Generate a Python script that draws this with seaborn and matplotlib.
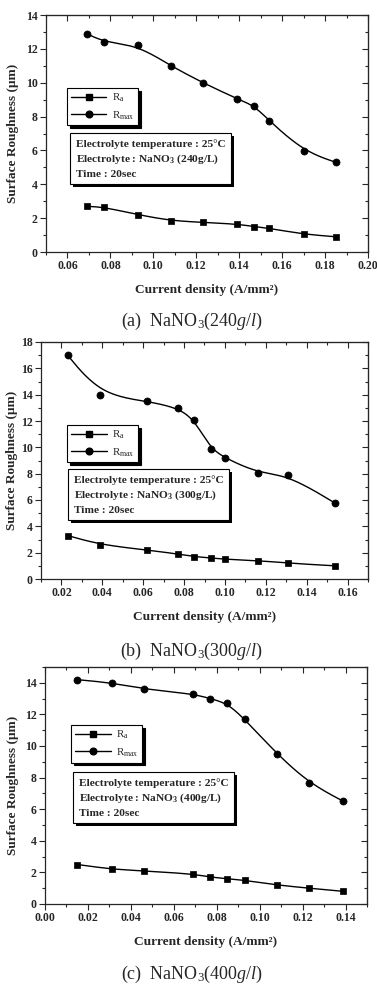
import numpy as np
import seaborn as sns
import matplotlib as mpl
mpl.use('Agg')
import matplotlib.pyplot as plt
from matplotlib.lines import Line2D
from matplotlib import patheffects as pe
from matplotlib.ticker import MultipleLocator, FormatStrFormatter

# (a) NaNO3 240 g/l
x_240 = [0.069, 0.077, 0.093, 0.108, 0.123, 0.139, 0.147, 0.154, 0.170, 0.185]
ra_240 = [2.7, 2.65, 2.2, 1.85, 1.75, 1.65, 1.5, 1.4, 1.05, 0.9]
rmax_240 = [12.9, 12.4, 12.2, 11.0, 10.0, 9.05, 8.65, 7.75, 5.95, 5.3]

# (b) NaNO3 300 g/l
x_300 = [0.023, 0.039, 0.062, 0.077, 0.085, 0.093, 0.100, 0.116, 0.131, 0.154]
ra_300 = [3.3, 2.6, 2.2, 1.9, 1.7, 1.6, 1.5, 1.4, 1.2, 1.0]
rmax_300 = [17.0, 14.0, 13.5, 13.0, 12.1, 9.9, 9.2, 8.05, 7.9, 5.75]

# (c) NaNO3 400 g/l
x_400 = [0.015, 0.031, 0.046, 0.069, 0.077, 0.085, 0.093, 0.108, 0.123, 0.139]
ra_400 = [2.5, 2.2, 2.1, 1.9, 1.7, 1.6, 1.5, 1.2, 1.0, 0.8]
rmax_400 = [14.2, 14.0, 13.6, 13.3, 13.0, 12.7, 11.7, 9.5, 7.65, 6.5]

concs = ['240', '300', '400']
letters = ['a', 'b', 'c']

sns.set_style('ticks')
plt.rcParams['font.family'] = ['Liberation Serif', 'DejaVu Serif']
plt.rcParams['mathtext.fontset'] = 'custom'
plt.rcParams['mathtext.rm'] = 'Liberation Serif'
plt.rcParams['mathtext.it'] = 'Liberation Serif:italic'
plt.rcParams['mathtext.bf'] = 'Liberation Serif:bold'


def bspline(xs, ys, n=25):
    # curva B-spline tipo Origin usando los puntos como control
    P = np.column_stack([xs, ys])
    P = np.vstack([P[:1], P[:1], P, P[-1:], P[-1:]])
    t = np.linspace(0, 1, n, endpoint=False)[:, None]
    b0 = (1 - t) ** 3 / 6
    b1 = (3 * t ** 3 - 6 * t ** 2 + 4) / 6
    b2 = (-3 * t ** 3 + 3 * t ** 2 + 3 * t + 1) / 6
    b3 = t ** 3 / 6
    segs = [b0 * P[i] + b1 * P[i + 1] + b2 * P[i + 2] + b3 * P[i + 3] for i in range(len(P) - 3)]
    out = np.vstack(segs + [P[-1:]])
    return out[:, 0], out[:, 1]


W, H = 377, 986
fig = plt.figure(figsize=(W / 100, H / 100), dpi=100)

# pixel layout: left, right, top, bottom of each axes
boxes = [(46, 368, 15, 252), (41, 368, 342, 579), (45, 367, 667, 904)]
xlims = [(0.05, 0.20), (0.01, 0.17), (0.0, 0.15)]
ylims = [(0, 14), (0, 18), (0, 15)]
xfirst = [0.06, 0.02, 0.00]
leg_pos = [(0.065, 0.692), (0.0795, 0.650), (0.081, 0.755)]
txt_pos = [(0.093, 0.477), (0.101, 0.439), (0.106, 0.532)]
xlab_y = [290, 617, 942]
cap_y = [321, 651, 974]
ylab_x = [13, 12, 13]

data = [(x_240, ra_240, rmax_240), (x_300, ra_300, rmax_300), (x_400, ra_400, rmax_400)]

for k in range(3):
    l, r, t, b = boxes[k]
    ax = fig.add_axes([l / W, 1 - b / H, (r - l) / W, (b - t) / H])
    xs, ra, rmax = data[k]

    for ys, mk, s in [(ra, 's', 24), (rmax, 'o', 26)]:
        sx, sy = bspline(xs, ys)
        sns.lineplot(x=sx, y=sy, sort=False, estimator=None, color='k', lw=1, ax=ax)
        sns.scatterplot(x=xs, y=ys, marker=mk, s=s, color='k', edgecolor='k', linewidth=0.5, ax=ax, zorder=3)

    ax.set_xlim(*xlims[k])
    ax.set_ylim(*ylims[k])
    ax.xaxis.set_major_locator(MultipleLocator(0.02, offset=xfirst[k] % 0.02))
    ax.xaxis.set_minor_locator(MultipleLocator(0.01))
    ax.yaxis.set_major_locator(MultipleLocator(2))
    ax.yaxis.set_minor_locator(MultipleLocator(1))
    ax.xaxis.set_major_formatter(FormatStrFormatter('%.2f'))
    ax.tick_params(which='both', direction='out', top=False, right=False, labelsize=8.5, width=0.8, pad=2)
    ax.tick_params(which='major', length=4)
    ax.tick_params(which='minor', length=2)
    for lab in ax.get_xticklabels() + ax.get_yticklabels():
        lab.set_fontweight('bold')
    for sp in ax.spines.values():
        sp.set_visible(True)
        sp.set_linewidth(0.9)

    # ticks hacia dentro arriba y a la derecha
    top = ax.secondary_xaxis('top')
    top.xaxis.set_major_locator(MultipleLocator(0.02, offset=xfirst[k] % 0.02))
    top.xaxis.set_minor_locator(MultipleLocator(0.01))
    top.tick_params(which='both', direction='in', labeltop=False, width=0.8)
    top.tick_params(which='major', length=4)
    top.tick_params(which='minor', length=2)
    right = ax.secondary_yaxis('right')
    right.yaxis.set_major_locator(MultipleLocator(2))
    right.yaxis.set_minor_locator(MultipleLocator(1))
    right.tick_params(which='both', direction='in', labelright=False, width=0.8)
    right.tick_params(which='major', length=4)
    right.tick_params(which='minor', length=2)

    handles = [Line2D([0], [0], color='k', lw=1, marker='s', ms=4.8),
               Line2D([0], [0], color='k', lw=1, marker='o', ms=4.8)]
    leg = ax.legend(handles, [r'R$_{\mathrm{a}}$', r'R$_{\mathrm{max}}$'],
                    loc='upper left', bbox_to_anchor=leg_pos[k], borderaxespad=0,
                    frameon=True, fancybox=False, shadow={'color': 'k', 'alpha': 1},
                    fontsize=7.8, handlelength=3.3, handletextpad=0.5,
                    labelspacing=0.45, borderpad=0.35)
    leg.get_frame().set_edgecolor('k')
    leg.get_frame().set_linewidth(0.8)

    txt = ('Electrolyte temperature : 25°C\n'
           'Electrolyte : NaNO$_{\\mathbf{3}}$ (' + concs[k] + 'g/L)\n'
           'Time : 20sec')
    tb = ax.text(txt_pos[k][0], txt_pos[k][1], txt, transform=ax.transAxes,
                 ha='left', va='top', fontsize=8.2, fontweight='bold', linespacing=1.45,
                 bbox=dict(boxstyle='square,pad=0.5', fc='w', ec='k', lw=0.8))
    tb.get_bbox_patch().set_path_effects([pe.SimplePatchShadow(offset=(2, -2), shadow_rgbFace='k', alpha=1),
                                          pe.Normal()])

    fig.text((l + r) / 2 / W, 1 - xlab_y[k] / H, 'Current density (A/mm²)',
             ha='center', va='center', fontsize=9.6, fontweight='bold')
    fig.text(ylab_x[k] / W, 1 - (t + b) / 2 / H, 'Surface Roughness (μm)',
             ha='center', va='center', rotation=90, fontsize=9.5, fontweight='bold')
    fig.text(192 / W, 1 - cap_y[k] / H,
             '(' + letters[k] + ')  NaNO$_3$(' + concs[k] + '$g/l$)',
             ha='center', va='center', fontsize=13)

fig.savefig('out.png', dpi=100)
